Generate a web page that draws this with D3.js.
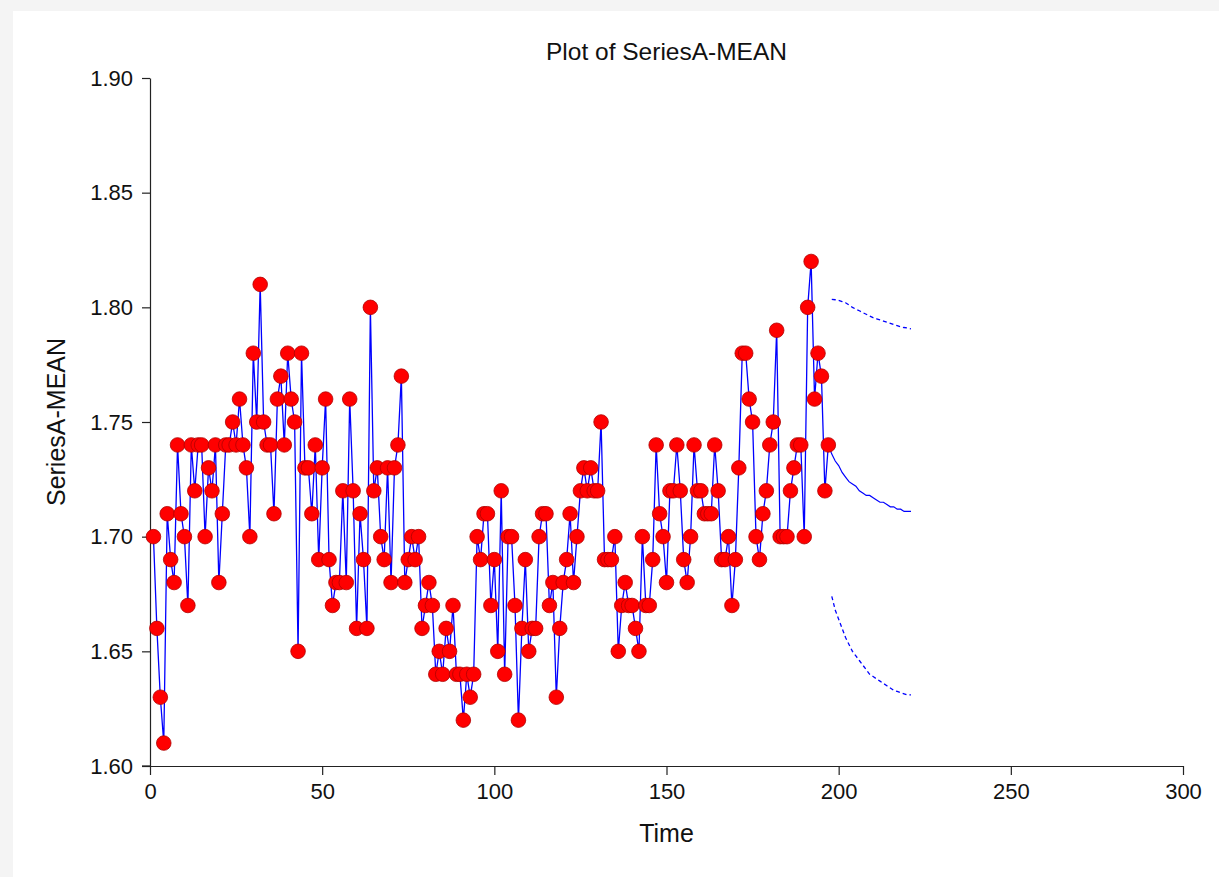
<!DOCTYPE html>
<html>
<head>
<meta charset="utf-8">
<script src="https://cdn.jsdelivr.net/npm/d3@7"></script>
<style>
    html, body { margin: 0; padding: 0; background: #f4f4f4; }
    #chart { position: absolute; left: 13px; top: 11px; }
</style>
</head>
<body>
<div id="chart"></div>
<script>
//  Observed series, one value per time step starting at time 1.
var seriesValues = [
    1.70, 1.66, 1.63, 1.61, 1.71, 1.69, 1.68, 1.74, 1.71, 1.70,
    1.67, 1.74, 1.72, 1.74, 1.74, 1.70, 1.73, 1.72, 1.74, 1.68,
    1.71, 1.74, 1.74, 1.75, 1.74, 1.76, 1.74, 1.73, 1.70, 1.78,
    1.75, 1.81, 1.75, 1.74, 1.74, 1.71, 1.76, 1.77, 1.74, 1.78,
    1.76, 1.75, 1.65, 1.78, 1.73, 1.73, 1.71, 1.74, 1.69, 1.73,
    1.76, 1.69, 1.67, 1.68, 1.68, 1.72, 1.68, 1.76, 1.72, 1.66,
    1.71, 1.69, 1.66, 1.80, 1.72, 1.73, 1.70, 1.69, 1.73, 1.68,
    1.73, 1.74, 1.77, 1.68, 1.69, 1.70, 1.69, 1.70, 1.66, 1.67,
    1.68, 1.67, 1.64, 1.65, 1.64, 1.66, 1.65, 1.67, 1.64, 1.64,
    1.62, 1.64, 1.63, 1.64, 1.70, 1.69, 1.71, 1.71, 1.67, 1.69,
    1.65, 1.72, 1.64, 1.70, 1.70, 1.67, 1.62, 1.66, 1.69, 1.65,
    1.66, 1.66, 1.70, 1.71, 1.71, 1.67, 1.68, 1.63, 1.66, 1.68,
    1.69, 1.71, 1.68, 1.70, 1.72, 1.73, 1.72, 1.73, 1.72, 1.72,
    1.75, 1.69, 1.69, 1.69, 1.70, 1.65, 1.67, 1.68, 1.67, 1.67,
    1.66, 1.65, 1.70, 1.67, 1.67, 1.69, 1.74, 1.71, 1.70, 1.68,
    1.72, 1.72, 1.74, 1.72, 1.69, 1.68, 1.70, 1.74, 1.72, 1.72,
    1.71, 1.71, 1.71, 1.74, 1.72, 1.69, 1.69, 1.70, 1.67, 1.69,
    1.73, 1.78, 1.78, 1.76, 1.75, 1.70, 1.69, 1.71, 1.72, 1.74,
    1.75, 1.79, 1.70, 1.70, 1.70, 1.72, 1.73, 1.74, 1.74, 1.70,
    1.80, 1.82, 1.76, 1.78, 1.77, 1.72, 1.74
];

//  Forecast, starting right after the last observation (time 198).
var forecastStart = 198;
var forecastMean = [
    1.736, 1.733, 1.731, 1.728, 1.726, 1.724, 1.723, 1.722, 1.720, 1.719,
    1.718, 1.718, 1.717, 1.716, 1.715, 1.715, 1.714, 1.713, 1.713, 1.712,
    1.712, 1.711, 1.711, 1.711
];
var forecastUpper = [
    1.8035, 1.8033, 1.8030, 1.8025, 1.8020, 1.8010, 1.8000, 1.7992, 1.7985, 1.7977,
    1.7970, 1.7962, 1.7955, 1.7950, 1.7945, 1.7940, 1.7935, 1.7930, 1.7925, 1.7920,
    1.7915, 1.7912, 1.7910, 1.7906
];
var forecastLower = [
    1.674, 1.668, 1.664, 1.660, 1.656, 1.653, 1.650, 1.648, 1.646, 1.644,
    1.642, 1.640, 1.639, 1.638, 1.637, 1.636, 1.635, 1.634, 1.633, 1.6325,
    1.632, 1.6315, 1.631, 1.631
];

//  Tick labels.
var xTicks = [0, 50, 100, 150, 200, 250, 300];
var yTicks = [1.60, 1.65, 1.70, 1.75, 1.80, 1.85, 1.90];

var title = "Plot of SeriesA-MEAN",
    xTitle = "Time",
    yTitle = "SeriesA-MEAN";

var width = 1206,
    height = 866,
    // plot area, in page coordinates minus the panel offset
    plotLeft = 137,
    plotTop = 67,
    plotRight = 1170,
    plotBottom = 755;

var font = "Arial, 'Liberation Sans', sans-serif";

var observed = seriesValues.map(function (v, i) {
    return {t: i + 1, v: v};
});

function toPoints(values) {
    return values.map(function (v, i) {
        return {t: forecastStart + i, v: v};
    });
}

var x = d3.scaleLinear()
    .domain([0, 300])
    .range([plotLeft, plotRight]);

var y = d3.scaleLinear()
    .domain([1.60, 1.90])
    .range([plotBottom, plotTop]);

var svg = d3.select("#chart").append("svg")
    .attr("width", width)
    .attr("height", height)
    .style("background", "#ffffff")
    .style("display", "block");

var line = d3.line()
    .x(function (d) { return x(d.t); })
    .y(function (d) { return y(d.v); });

//  Axes
var yAxis = svg.append("g")
    .attr("transform", "translate(" + plotLeft + ",0)")
    .call(d3.axisLeft(y)
        .tickValues(yTicks)
        .tickFormat(d3.format(".2f"))
        .tickSize(8)
        .tickSizeOuter(0)
        .tickPadding(9));

var xAxis = svg.append("g")
    .attr("transform", "translate(0," + plotBottom + ")")
    .call(d3.axisBottom(x)
        .tickValues(xTicks)
        .tickFormat(d3.format("d"))
        .tickSize(9)
        .tickSizeOuter(0)
        .tickPadding(8));

[xAxis, yAxis].forEach(function (a) {
    a.selectAll("path, line")
        .attr("stroke", "#222")
        .attr("stroke-width", 1.2);
    a.selectAll("text")
        .attr("fill", "#111")
        .style("font-family", font)
        .style("font-size", "22px");
});

//  the x axis line also runs under the 1.60 tick
svg.append("line")
    .attr("x1", plotLeft - 8)
    .attr("x2", plotLeft)
    .attr("y1", plotBottom)
    .attr("y2", plotBottom)
    .attr("stroke", "#222")
    .attr("stroke-width", 1.2);

//  Observed series
svg.append("path")
    .datum(observed)
    .attr("d", line)
    .attr("fill", "none")
    .attr("stroke", "#0000ff")
    .attr("stroke-width", 1.3);

//  Forecast and limits
svg.append("path")
    .datum([observed[observed.length - 1]].concat(toPoints(forecastMean)))
    .attr("d", line)
    .attr("fill", "none")
    .attr("stroke", "#0000ff")
    .attr("stroke-width", 1.2);

[forecastUpper, forecastLower].forEach(function (vals) {
    svg.append("path")
        .datum(toPoints(vals))
        .attr("d", line)
        .attr("fill", "none")
        .attr("stroke", "#0000ff")
        .attr("stroke-width", 1.3)
        .attr("stroke-dasharray", "4,3");
});

svg.append("g")
    .selectAll("circle")
    .data(observed)
    .enter()
    .append("circle")
    .attr("cx", function (d) { return x(d.t); })
    .attr("cy", function (d) { return y(d.v); })
    .attr("r", 7.3)
    .attr("fill", "#ff0000")
    .attr("stroke", "#b00000")
    .attr("stroke-width", 0.8);

//  Titles
svg.append("text")
    .attr("x", (plotLeft + plotRight) / 2)
    .attr("y", 49)
    .attr("text-anchor", "middle")
    .style("font-family", font)
    .style("font-size", "24.5px")
    .attr("fill", "#111")
    .text(title);

svg.append("text")
    .attr("x", (plotLeft + plotRight) / 2)
    .attr("y", 831)
    .attr("text-anchor", "middle")
    .style("font-family", font)
    .style("font-size", "25px")
    .attr("fill", "#111")
    .text(xTitle);

svg.append("text")
    .attr("transform", "translate(52," + (plotTop + plotBottom) / 2 + ")rotate(-90)")
    .attr("text-anchor", "middle")
    .style("font-family", font)
    .style("font-size", "25px")
    .attr("fill", "#111")
    .text(yTitle);
</script>
</body>
</html>
